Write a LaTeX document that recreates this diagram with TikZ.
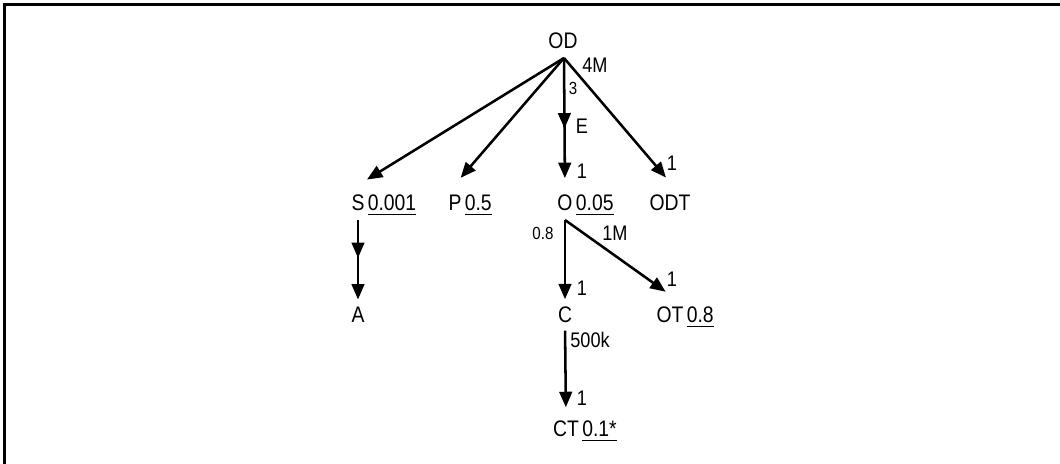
\documentclass[tikz,border=0pt]{standalone}
\usepackage{fontspec}
\setmainfont{Liberation Sans}[FakeStretch=0.86]
\usetikzlibrary{arrows.meta,decorations.markings}
\newcommand\undl[1]{{\setbox0\hbox{#1}\leavevmode\rlap{\rule[-3.2pt]{\wd0}{0.9pt}}\box0}}
\tikzset{
  lbl/.style={inner sep=1pt, font=\fontsize{16}{19}\selectfont},
  num/.style={inner sep=0pt, font=\fontsize{15}{18}\selectfont},
  small/.style={inner sep=0pt, font=\fontsize{12.5}{15}\selectfont},
  arr/.style={line width=1.8pt, -{Triangle[length=11pt,width=9pt]}},
  midarr/.style={decoration={markings, mark=at position #1 with {\arrow{Triangle[length=11pt,width=9pt]}}}, postaction={decorate}}
}
\begin{document}
\begin{tikzpicture}[x=0.025cm,y=-0.025cm]
\useasboundingbox (0,0) rectangle (1060,464);
\draw[line width=1.6pt] (4.5,464)--(4.5,4.5)--(1060,4.5);
% nodes
\node[lbl, anchor=base] (OD) at (563,49) {OD};
\coordinate (hub) at (564,58);
\node[lbl, anchor=base] (S) at (358,211) {S};
\node[lbl, anchor=base west] (Sv) at (S.base east) {\undl{0.001}};
\node[lbl, anchor=base] (P) at (455,211) {P};
\node[lbl, anchor=base west] (Pv) at (P.base east) {\undl{0.5}};
\node[lbl, anchor=base] (O) at (565,211) {O};
\node[lbl, anchor=base west] (Ov) at (O.base east) {\undl{0.05}};
\node[lbl, anchor=base] (ODT) at (670,211) {ODT};
\coordinate (ob) at (565,220);
\node[lbl, anchor=base] (A) at (358,323) {A};
\node[lbl, anchor=base] (C) at (565,323) {C};
\node[lbl, anchor=base] (OT) at (670,323) {OT};
\node[lbl, anchor=base west] (OTv) at (OT.base east) {\undl{0.8}};
\node[lbl, anchor=base] (CT) at (566,437) {CT};
\node[lbl, anchor=base west] (CTv) at (CT.base east) {\undl{0.1*}};
% connectors
\draw[arr, shorten >=19pt] (hub) -- ([xshift=-4pt]S.north west);
\draw[arr, shorten >=15pt] (hub) -- (P.north west);
\draw[arr, midarr=0.52, shorten >=11pt] (hub) -- (O.north);
\draw[arr, shorten >=15pt] (hub) -- (ODT.45);
\draw[arr, midarr=0.485, shorten <=5pt, shorten >=4.5pt] (S.south) -- (A.north);
\draw[arr, shorten >=4.5pt] (ob) -- (C.north);
\draw[arr, shorten >=17pt] (ob) -- (OTv.north west);
\draw[arr, shorten <=4pt, shorten >=8.8pt] (C.south) -- (CT.north);
% labels
\node[num] (l4M) at (595,65) {4M};
\node[small] (l3) at (573,88) {3};
\node[num] (lE) at (582,126) {E};
\node[num] (lO) at (582,171) {1};
\node[num] (lODT) at (672,163) {1};
\node[small] (l08) at (543,233) {0.8};
\node[num] (l1M) at (615,233) {1M};
\node[num] (lC) at (582,288) {1};
\node[num] (lOT) at (672,279) {1};
\node[num] (l500k) at (590,340) {500k};
\node[num] (lCT) at (582,398) {1};
\end{tikzpicture}
\end{document}
